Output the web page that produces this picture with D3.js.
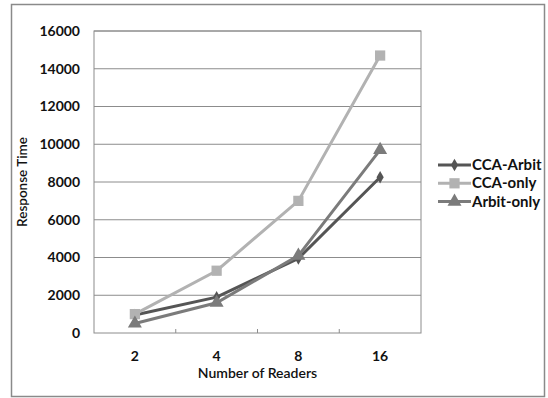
<!DOCTYPE html>
<html>
<head>
<meta charset="utf-8">
<script src="https://cdn.jsdelivr.net/npm/d3@7"></script>
<style>
  body { margin: 0; background: #fff; }
  svg text { font-family: Lato, "Open Sans", sans-serif; fill: #111; }
</style>
</head>
<body>
<svg id="chart" width="548" height="398"></svg>
<script>
// data
var readers = ["2", "4", "8", "16"];
var ccaArbit = [950, 1900, 3950, 8250];
var ccaOnly = [1000, 3300, 7000, 14700];
var arbitOnly = [500, 1600, 4100, 9700];
var yTicks = [0, 2000, 4000, 6000, 8000, 10000, 12000, 14000, 16000];
var seriesNames = ["CCA-Arbit", "CCA-only", "Arbit-only"];

var series = [
  {name: seriesNames[0], values: ccaArbit, color: "#555555", shape: "diamond"},
  {name: seriesNames[1], values: ccaOnly, color: "#b2b2b2", shape: "square"},
  {name: seriesNames[2], values: arbitOnly, color: "#7b7b7b", shape: "triangle"}
];

var svg = d3.select("#chart");

// outer frame
svg.append("rect")
   .attr("x", 11.5).attr("y", 4.5)
   .attr("width", 533).attr("height", 392)
   .attr("fill", "none").attr("stroke", "#8a8a8a").attr("stroke-width", 1.5);

// plot area (note: "top" clashes with window.top, so use plot* names)
var plotLeft = 94, plotRight = 421, plotTop = 31, plotBottom = 333;

var x = d3.scaleBand().domain(readers).range([plotLeft, plotRight]);
var y = d3.scaleLinear().domain([0, 16000]).range([plotBottom, plotTop]);

// grid lines
svg.append("g").selectAll("line")
   .data(yTicks.slice(1))
   .join("line")
   .attr("x1", plotLeft).attr("x2", plotRight)
   .attr("y1", function(d){ return y(d); })
   .attr("y2", function(d){ return y(d); })
   .attr("stroke", "#8c8c8c").attr("stroke-width", 1);

// plot border
svg.append("rect")
   .attr("x", plotLeft).attr("y", plotTop)
   .attr("width", plotRight - plotLeft).attr("height", plotBottom - plotTop)
   .attr("fill", "none").attr("stroke", "#8c8c8c").attr("stroke-width", 1);

// y axis labels
var yAxis = d3.axisLeft(y).tickValues(yTicks).tickSize(0).tickPadding(14)
              .tickFormat(d3.format("d"));
var gy = svg.append("g").attr("transform", "translate(" + plotLeft + ",0)").call(yAxis);
gy.select(".domain").remove();
gy.selectAll("text")
  .style("font-size", "14px").style("font-weight", "bold")
  .style("font-family", "Lato, sans-serif").attr("fill", "#111");

// x axis with ticks between categories
var xAxis = d3.axisBottom(x).tickSize(0).tickPadding(18);
var gx = svg.append("g").attr("transform", "translate(0," + plotBottom + ")").call(xAxis);
gx.select(".domain").remove();
gx.selectAll("text")
  .style("font-size", "14px").style("font-weight", "bold")
  .style("font-family", "Lato, sans-serif").attr("fill", "#111");
svg.append("g").selectAll("line")
   .data(readers.slice(1))
   .join("line")
   .attr("x1", function(d){ return x(d); })
   .attr("x2", function(d){ return x(d); })
   .attr("y1", plotBottom).attr("y2", plotBottom - 4)
   .attr("stroke", "#8c8c8c");

// axis titles
svg.append("text")
   .attr("x", (plotLeft + plotRight) / 2).attr("y", 378)
   .attr("text-anchor", "middle")
   .style("font-size", "14px").style("font-weight", "600")
   .text("Number of Readers");
svg.append("text")
   .attr("transform", "translate(27," + ((plotTop + plotBottom) / 2) + ") rotate(-90)")
   .attr("text-anchor", "middle")
   .style("font-size", "13.5px").style("font-weight", "600")
   .text("Response Time");

function symbolFor(shape) {
  if (shape == "diamond") return d3.symbol().type(d3.symbolDiamond).size(45);
  if (shape == "square") return d3.symbol().type(d3.symbolSquare).size(105);
  return d3.symbol().type(d3.symbolTriangle).size(85);
}

var line = d3.line()
   .x(function(d, i){ return x(readers[i]) + x.bandwidth() / 2; })
   .y(function(d){ return y(d); });

series.forEach(function(s){
  svg.append("path")
     .attr("d", line(s.values))
     .attr("fill", "none").attr("stroke", s.color).attr("stroke-width", 3);
  svg.append("g").selectAll("path")
     .data(s.values)
     .join("path")
     .attr("transform", function(d, i){
        return "translate(" + (x(readers[i]) + x.bandwidth() / 2) + "," + y(d) + ")";
     })
     .attr("d", symbolFor(s.shape)())
     .attr("fill", s.color);
});

// legend
var legend = svg.append("g").attr("transform", "translate(438,165)");
series.forEach(function(s, i){
  var row = legend.append("g").attr("transform", "translate(0," + (i * 18.3) + ")");
  row.append("line").attr("x1", 0).attr("x2", 33).attr("y1", 0).attr("y2", 0)
     .attr("stroke", s.color).attr("stroke-width", 3);
  row.append("path").attr("transform", "translate(16.5,0)")
     .attr("d", symbolFor(s.shape)()).attr("fill", s.color);
  row.append("text").attr("x", 34).attr("y", 5)
     .style("font-size", "15px").style("font-weight", "bold")
     .text(s.name);
});
</script>
</body>
</html>
